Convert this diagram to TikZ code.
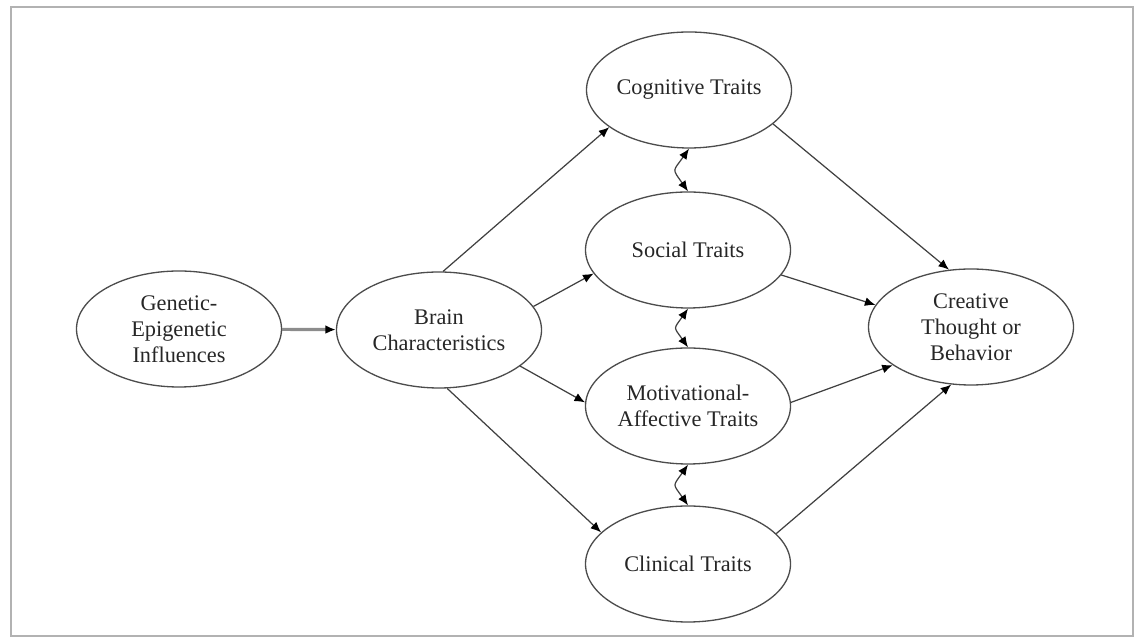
\documentclass[tikz,border=0pt]{standalone}
\usepackage{fontspec}
\setmainfont{Liberation Serif}
\usetikzlibrary{shapes.geometric, arrows.meta}

\begin{document}
\begin{tikzpicture}[
		trait/.style = {draw = black!70, line width = 0.75pt, ellipse, minimum width = 4.1cm, minimum height = 2.32cm, inner sep = 0pt, align = center, text = black!85, font = \fontsize{12.7}{14.7}\selectfont},
		link/.style = {draw = black!75, line width = 0.7pt, -{Latex[length = 6pt, width = 5pt, black]}},
		both/.style = {link, {Latex[length = 6pt, width = 5pt, black]}-{Latex[length = 6pt, width = 5pt, black]}, looseness = 1.7}
	]
		\def\borderframe{(0.22,0.08) rectangle (22.66,12.66)}
		
		\useasboundingbox (0,0) rectangle (22.7,12.8);
		\draw [black!30, line width = 1.2pt] \borderframe;
		
		\begin{scope}
			\node [trait] (genetic) at (3.58,6.22) {Genetic-\\Epigenetic\\Influences};
			\node [trait] (brain) at (8.78,6.20) {Brain\\Characteristics};
			\node [trait] (cognitive) at (13.78,11.0) {Cognitive Traits};
			\node [trait] (social) at (13.76,7.80) {Social Traits};
			\node [trait] (motivational) at (13.76,4.68) {Motivational-\\Affective Traits};
			\node [trait] (clinical) at (13.76,1.52) {Clinical Traits};
			\node [trait] (creative) at (19.42,6.26) {Creative\\Thought or\\Behavior};
		\end{scope}
		
		\begin{scope}
			\draw [link, draw = black!45, line width = 1.8pt] (genetic) -- (brain);
			\draw [link] (brain.86) -- (cognitive.205);
			\draw [link] (brain.14) -- (social.194);
			\draw [link] (brain.336) -- (motivational.178);
			\draw [link] (brain.278) -- (clinical.160);
		\end{scope}
		
		\begin{scope}
			\draw [link] (cognitive.338) -- (creative.111);
			\draw [link] (social.345) -- (creative.167);
			\draw [link] (motivational.2) -- (creative.206);
			\draw [link] (clinical.19) -- (creative.251);
		\end{scope}
		
		\begin{scope}
			\draw [both] (cognitive.south) to [out = -125, in = 125] (social.north);
			\draw [both] (social.south) to [out = -125, in = 125] (motivational.north);
			\draw [both] (motivational.south) to [out = -125, in = 125] (clinical.north);
		\end{scope}
	\end{tikzpicture}
\end{document}
